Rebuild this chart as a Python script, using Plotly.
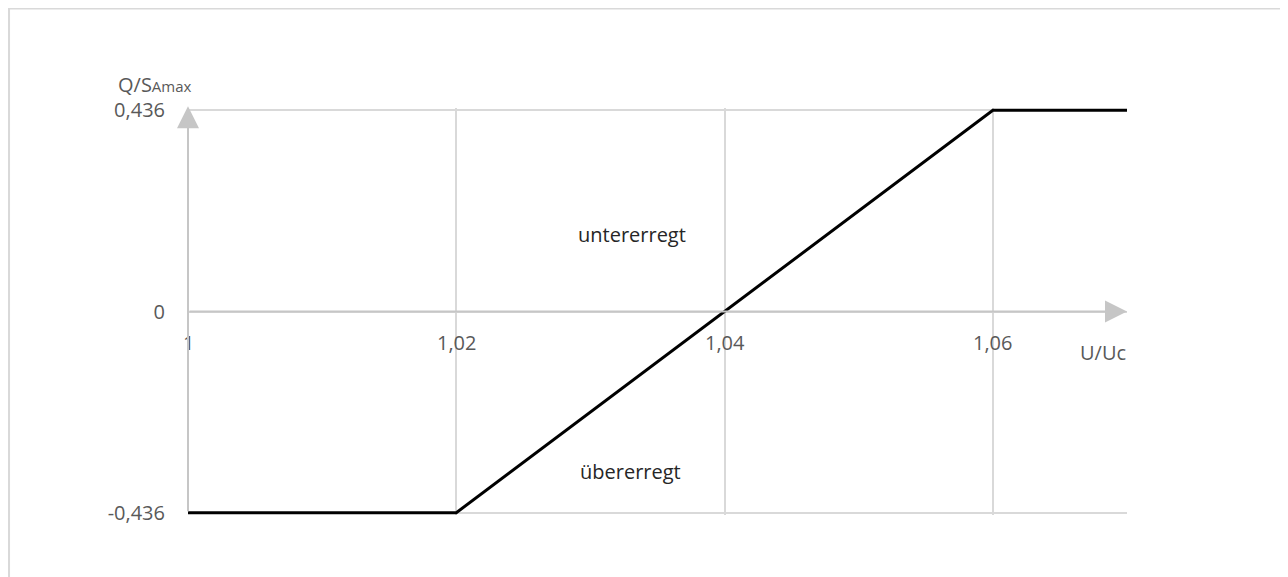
import plotly.graph_objects as go

# Data
u_values = [1.0, 1.02, 1.06, 1.07]
q_values = [-0.436, -0.436, 0.436, 0.436]
x_ticks = [1.0, 1.02, 1.04, 1.06]
x_tick_labels = ["1", "1,02", "1,04", "1,06"]
y_ticks = [-0.436, 0, 0.436]
y_tick_labels = ["-0,436", "0", "0,436"]
region_labels = ["untererregt", "übererregt"]
region_x = [1.0331, 1.0330]
region_y = [0.166, -0.346]

FONT = "Open Sans"
GRID = "#d9d9d9"
AXIS = "#c6c6c6"
TICK = "#595959"
FS = 20

fig = go.Figure()
fig.add_trace(go.Scatter(x=u_values, y=q_values, mode="lines",
                         line=dict(color="#000000", width=3), hoverinfo="skip",
                         showlegend=False))

annotations = []
for xv, lab in zip(x_ticks, x_tick_labels):
    annotations.append(dict(x=xv, y=0, xref="x", yref="y", text=lab, showarrow=False,
                            yshift=-31, font=dict(family=FONT, size=FS, color=TICK)))
for xv, yv, lab in zip(region_x, region_y, region_labels):
    annotations.append(dict(x=xv, y=yv, xref="x", yref="y", text=lab,
                            showarrow=False, font=dict(family=FONT, size=FS, color="#262626")))
annotations.append(dict(x=1.0, y=0.436, xref="x", yref="y",
                        text="Q/S<span style='font-size:15px'>Amax</span>",
                        showarrow=False, xanchor="right", yanchor="bottom", xshift=6, yshift=10,
                        font=dict(family=FONT, size=FS, color=TICK)))
annotations.append(dict(x=1.07, y=0, xref="x", yref="y", text="U/Uc",
                        showarrow=False, xanchor="right", yshift=-41, xshift=1,
                        font=dict(family=FONT, size=FS, color=TICK)))
annotations.append(dict(x=1.0, y=0.445, ax=1.0, ay=-0.436, xref="x", yref="y",
                        axref="x", ayref="y", text="", showarrow=True, arrowhead=2,
                        arrowsize=2.2, arrowwidth=2, arrowcolor=AXIS))
annotations.append(dict(x=1.07, y=0, ax=1.0, ay=0, xref="x", yref="y",
                        axref="x", ayref="y", text="", showarrow=True, arrowhead=2,
                        arrowsize=2.2, arrowwidth=2, arrowcolor=AXIS))

shapes = [
    dict(type="rect", xref="paper", yref="paper", x0=-0.1906, x1=1.1685,
         y0=-0.2, y1=1.2445, line=dict(color="#d9d9d9", width=2), layer="below"),
]

fig.update_layout(
    width=1280, height=569,
    margin=dict(l=180, r=161, t=100, b=62),
    paper_bgcolor="white", plot_bgcolor="white",
    font=dict(family=FONT, size=FS, color=TICK),
    annotations=annotations, shapes=shapes,
    xaxis=dict(range=[1.0, 1.07], tickvals=x_ticks, showticklabels=False,
               showgrid=True, gridcolor=GRID, gridwidth=1.5, zeroline=False,
               showline=False, fixedrange=True),
    yaxis=dict(range=[-0.441, 0.441], tickvals=y_ticks, ticktext=y_tick_labels,
               showgrid=True, gridcolor=GRID, gridwidth=1.5, zeroline=False,
               showline=False, ticks="", ticklabelstandoff=22,
               tickfont=dict(family=FONT, size=FS, color=TICK), fixedrange=True),
)

fig.write_html("out.html")
